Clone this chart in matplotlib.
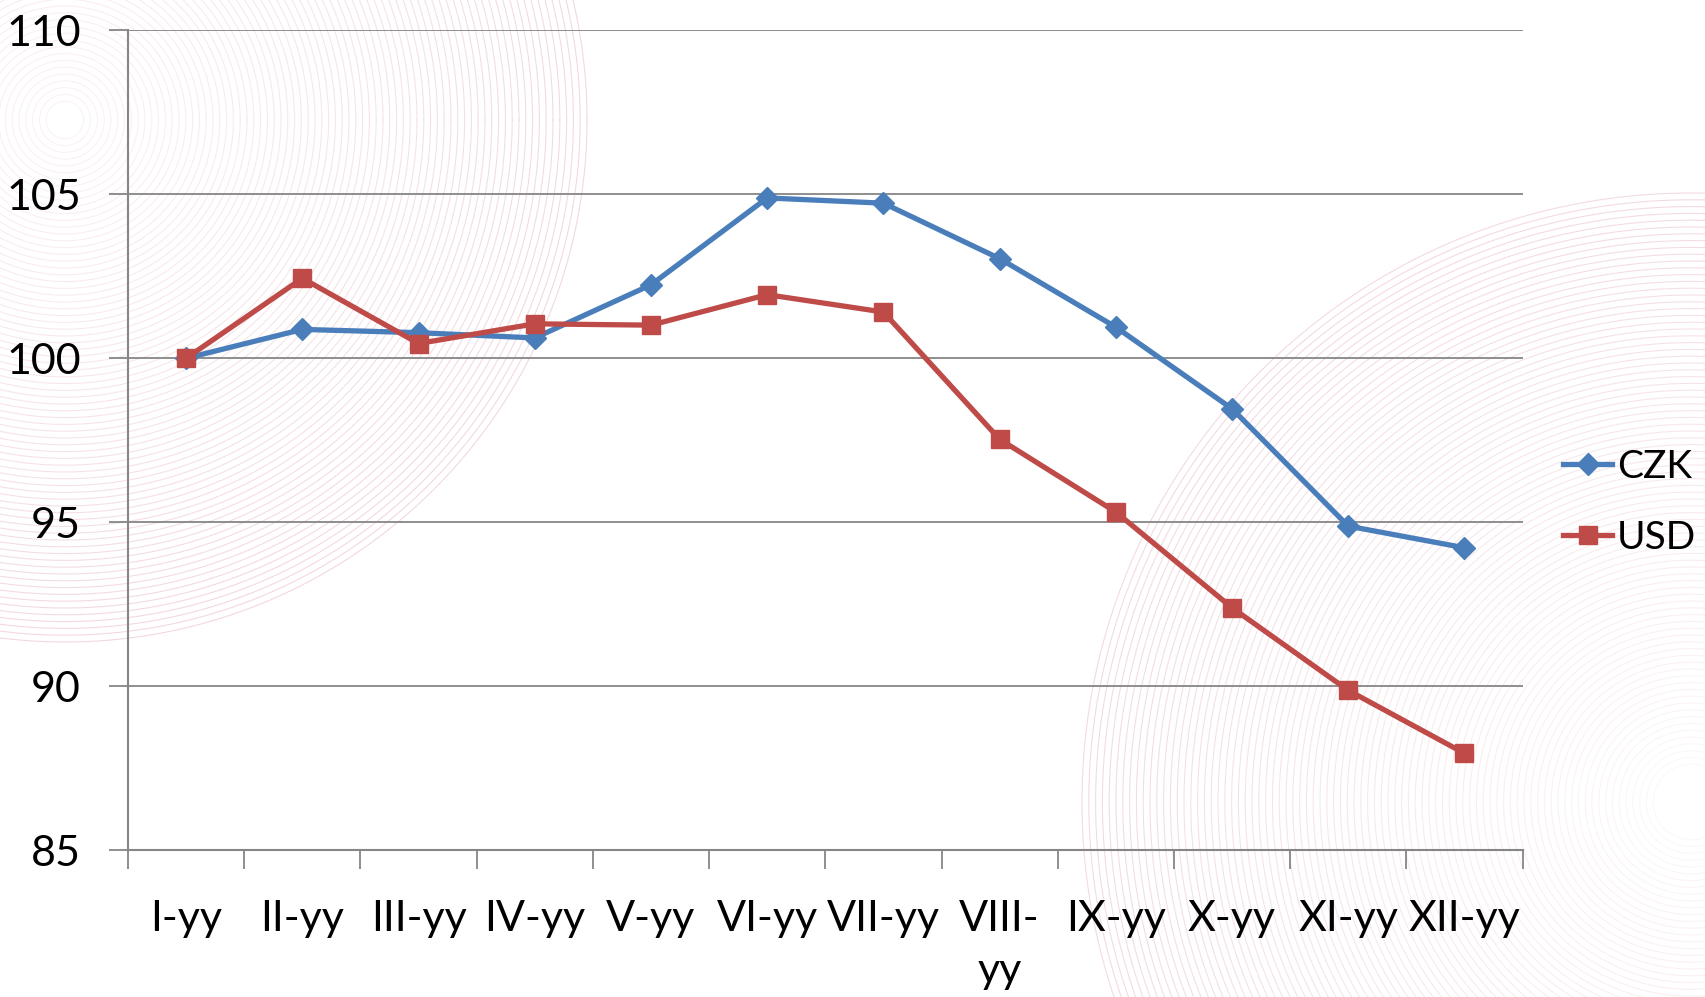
import numpy as np
import matplotlib
matplotlib.use("Agg")
import matplotlib.pyplot as plt
from matplotlib.lines import Line2D

categories = ["I-yy", "II-yy", "III-yy", "IV-yy", "V-yy", "VI-yy", "VII-yy",
              "VIII-\nyy", "IX-yy", "X-yy", "XI-yy", "XII-yy"]
czk = [100.0, 100.88, 100.78, 100.62, 102.24, 104.89, 104.73, 103.04, 100.95, 98.46, 94.88, 94.22]
usd = [100.0, 102.44, 100.45, 101.05, 101.01, 101.94, 101.41, 97.53, 95.31, 92.39, 89.87, 87.95]
y_ticks = [85, 90, 95, 100, 105, 110]

FONT = "Lato"
FS = 31

W, H = 1705, 997
fig = plt.figure(figsize=(W / 100, H / 100), dpi=100)
fig.patch.set_facecolor("white")

# background decorative concentric arcs
bg = fig.add_axes([0, 0, 1, 1], zorder=0)
bg.set_xlim(0, W)
bg.set_ylim(H, 0)
bg.axis("off")
t = np.linspace(0, 2 * np.pi, 720)
pink = (0.88, 0.62, 0.68)

def rings(cx, cy, rmax, n, step, amax, amin):
    for i in range(n):
        r = rmax - i * step
        if r <= 0:
            break
        a = amax - (amax - amin) * (i / n)
        bg.plot(cx + r * np.cos(t), cy + r * np.sin(t), color=pink, lw=0.8, alpha=a)

rings(65, 120, 522, 75, 6.8, 0.40, 0.12)
rings(1691, 802, 609, 85, 6.8, 0.38, 0.08)

ax = fig.add_axes([0.0751, 0.1474, 0.893 - 0.0751, 0.9695 - 0.1474], zorder=1)
ax.patch.set_alpha(0)
x = np.arange(len(categories))
ax.plot(x, czk, color="#4a7ebb", lw=3.8, marker="D", ms=11, zorder=3)
ax.plot(x, usd, color="#be4b48", lw=3.8, marker="s", ms=13, zorder=3)

ax.set_xlim(-0.5, len(categories) - 0.5)
ax.set_ylim(85, 110)
ax.set_yticks(y_ticks)
ax.yaxis.grid(True, color="#868686", lw=1.3)
ax.set_axisbelow(True)
for s in ["top", "right"]:
    ax.spines[s].set_visible(False)
for s in ["left", "bottom"]:
    ax.spines[s].set_color("#868686")
    ax.spines[s].set_linewidth(1.5)

ax.set_xticks(np.arange(-0.5, len(categories), 1.0))
ax.set_xticklabels([])
ax.set_xticks(x, minor=True)
ax.set_xticklabels(categories, minor=True)
ax.tick_params(axis="x", which="major", length=14, width=1.3, color="#868686", direction="out")
ax.tick_params(axis="x", which="minor", length=0, pad=36, labelsize=FS)
ax.tick_params(axis="y", length=14, width=1.3, color="#868686", direction="out", labelsize=FS, pad=20)
for lab in ax.get_xticklabels(minor=True):
    lab.set_linespacing(1.45)
    lab.set_fontfamily(FONT)
for lab in ax.get_yticklabels():
    lab.set_fontfamily(FONT)

handles = [Line2D([], [], color="#4a7ebb", lw=3.8, marker="D", ms=11),
           Line2D([], [], color="#be4b48", lw=3.8, marker="s", ms=13)]
leg = fig.legend(handles, ["CZK", "USD"], loc="center left", bbox_to_anchor=(0.917, 0.496),
                 frameon=False, prop={"family": FONT, "size": 28},
                 handlelength=1.25, handletextpad=0.12, labelspacing=0.9,
                 borderaxespad=0, borderpad=0)

fig.savefig("out.png", dpi=100)
